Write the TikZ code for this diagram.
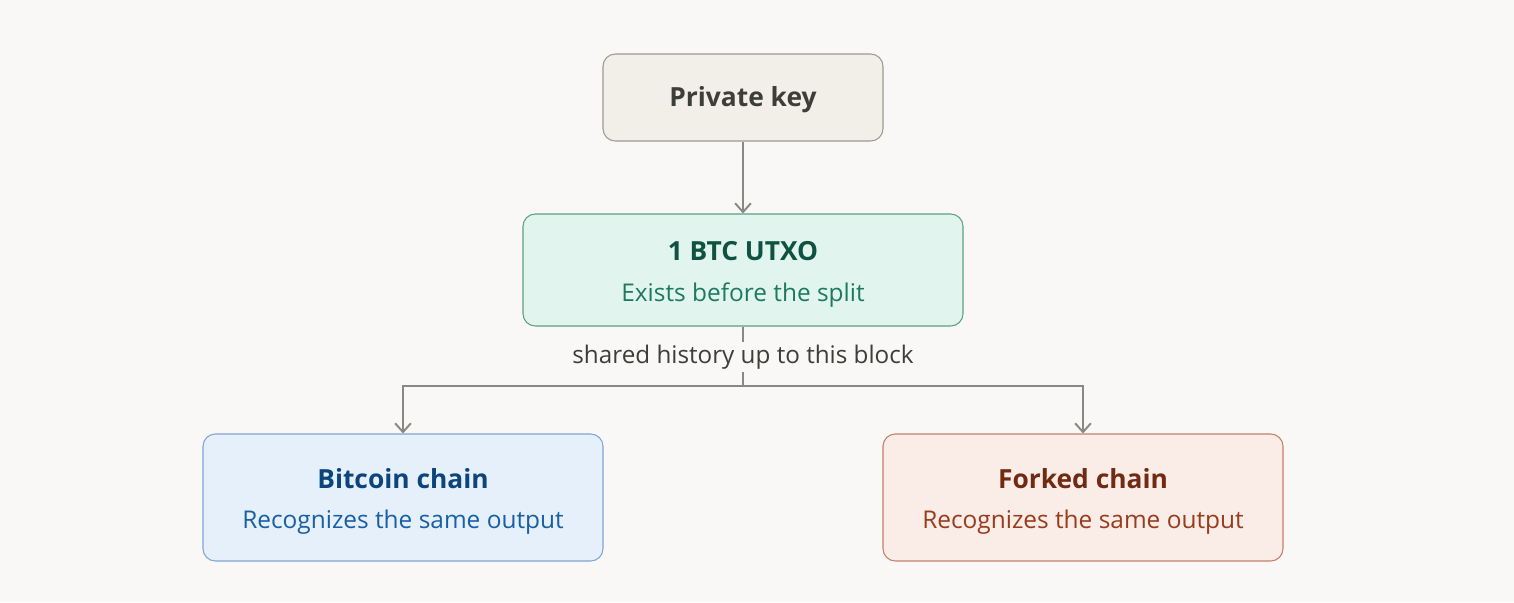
\documentclass[tikz,border=0pt]{standalone}
\usepackage{fontspec}
\setmainfont{Open Sans}
\usetikzlibrary{arrows.meta}

\definecolor{paper}{HTML}{F9F8F6}
\definecolor{wire}{HTML}{8A8884}
\definecolor{keyfill}{HTML}{F2EFE9}
\definecolor{keydraw}{HTML}{9C9A94}
\definecolor{keytext}{HTML}{3D3D3A}
\definecolor{utxofill}{HTML}{E1F5EE}
\definecolor{utxodraw}{HTML}{5E9E88}
\definecolor{utxotitle}{HTML}{0F5240}
\definecolor{utxotext}{HTML}{1D7A5E}
\definecolor{btcfill}{HTML}{E6F0FA}
\definecolor{btcdraw}{HTML}{7EA5D6}
\definecolor{btctitle}{HTML}{0C447C}
\definecolor{btctext}{HTML}{185FA5}
\definecolor{forkfill}{HTML}{FAECE7}
\definecolor{forkdraw}{HTML}{C4806A}
\definecolor{forktitle}{HTML}{712B13}
\definecolor{forktext}{HTML}{993C1D}

\tikzset{
  box/.style={draw, line width=0.6pt, rounded corners=7pt, align=center,
    font=\fontsize{15}{23}\selectfont},
  wirestyle/.style={draw=wire, line width=1.1pt},
  link/.style={wirestyle, -{Straight Barb[length=5pt,width=9pt,line width=1.1pt]}},
}
\newcommand{\sub}[1]{{\fontsize{13.9}{23}\selectfont #1}}
\newcommand{\lift}[1]{\rule{0pt}{#1}}

\begin{document}
\begin{tikzpicture}[x=0.02cm,y=-0.02cm]
  \path[fill=paper] (0,0) rectangle (1514,602);
  \useasboundingbox (0,0) rectangle (1514,602);

  \coordinate (split) at (743,386);

  \node[box, fill=keyfill, draw=keydraw, text=keytext, minimum width=280*0.02cm, minimum height=87*0.02cm]
    (key) at (743,97.5) {\lift{14pt}\bfseries Private key};
  \node[box, fill=utxofill, draw=utxodraw, minimum width=440*0.02cm, minimum height=112*0.02cm]
    (utxo) at (743,270) {\lift{16pt}\textcolor{utxotitle}{\bfseries 1 BTC UTXO}\\\textcolor{utxotext}{\sub{Exists before the split}}};
  \node[box, fill=btcfill, draw=btcdraw, minimum width=400*0.02cm, minimum height=127*0.02cm]
    (btc) at (403,497.5) {\lift{16pt}\textcolor{btctitle}{\bfseries Bitcoin chain}\\\textcolor{btctext}{\sub{Recognizes the same output}}};
  \node[box, fill=forkfill, draw=forkdraw, minimum width=400*0.02cm, minimum height=127*0.02cm]
    (fork) at (1083,497.5) {\lift{16pt}\textcolor{forktitle}{\bfseries Forked chain}\\\textcolor{forktext}{\sub{Recognizes the same output}}};

  \node[text=keytext, inner sep=1.5pt, font=\fontsize{13.8}{16}\selectfont]
    (hist) at (743,357) {shared history up to this block};

  \draw[link] (key) -- (utxo);
  \draw[wirestyle] (utxo) -- (hist);
  \draw[wirestyle] (hist) -- (split);
  \draw[link] (split) -| (btc);
  \draw[link] (split) -| (fork);
\end{tikzpicture}
\end{document}
